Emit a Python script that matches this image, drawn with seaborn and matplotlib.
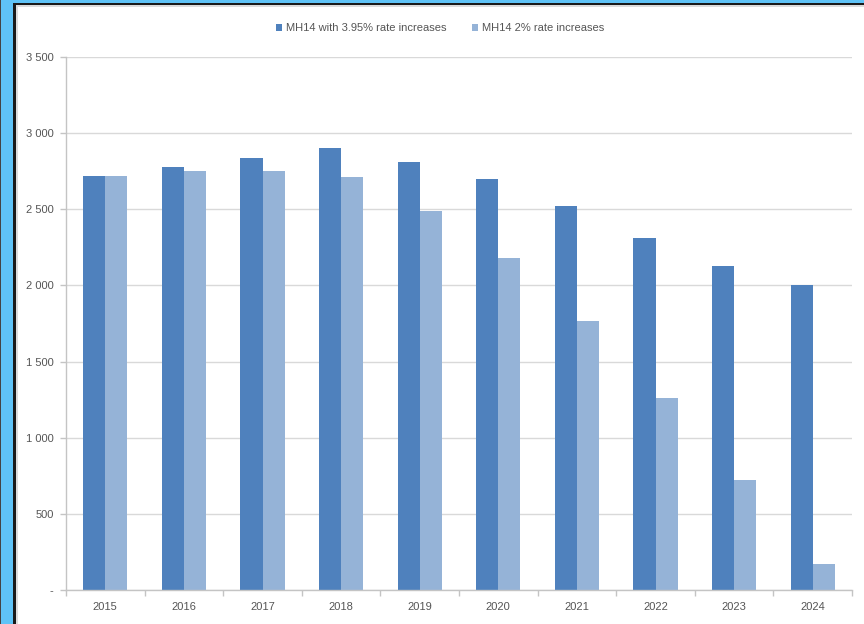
import matplotlib
matplotlib.use("Agg")
import matplotlib.pyplot as plt
from matplotlib.patches import Rectangle
from matplotlib.ticker import FixedLocator, FuncFormatter
import seaborn as sns
import pandas as pd

# Projected values per year
years = ["2015", "2016", "2017", "2018", "2019", "2020", "2021", "2022", "2023", "2024"]
rate_395 = [2719, 2778, 2837, 2905, 2813, 2697, 2522, 2314, 2128, 2001]
rate_2 = [2719, 2750, 2750, 2712, 2491, 2182, 1766, 1261, 722, 169]
series_names = ["MH14 with 3.95% rate increases", "MH14 2% rate increases"]
y_ticks = [0, 500, 1000, 1500, 2000, 2500, 3000, 3500]

df = pd.DataFrame({
    "year": years * 2,
    "value": rate_395 + rate_2,
    "series": [series_names[0]] * len(years) + [series_names[1]] * len(years),
})

sns.set_theme(style="white")
plt.rcParams["font.family"] = ["Liberation Sans Narrow", "Liberation Sans", "DejaVu Sans"]

W, H = 864, 624
fig = plt.figure(figsize=(W / 100, H / 100), dpi=100)
fig.patch.set_facecolor("white")


def px_rect(x0, y0, x1, y1, color):
    fig.patches.append(Rectangle((x0 / W, 1 - y1 / H), (x1 - x0) / W, (y1 - y0) / H,
                                 transform=fig.transFigure, facecolor=color,
                                 edgecolor="none", zorder=-10))


# Slide frame: light-blue band with dark edge lines on the left and top
frame_blue = "#5fc3f7"
px_rect(0, 0, W, 3, frame_blue)
px_rect(16, 3, W, 5, "#1a1a1a")
px_rect(16, 5, W, 7, "#dcdcdc")
px_rect(0, 0, 13, H, frame_blue)
px_rect(0, 0, 1, H, "#444444")
px_rect(13, 3, 16, H, "#1a1a1a")
px_rect(16, 5, 18, H, "#dcdcdc")

ax = fig.add_axes([66 / W, 1 - 590 / H, (852 - 66) / W, (590 - 57) / H])
palette = ["#4f81bd", "#95b3d7"]
sns.barplot(data=df, x="year", y="value", hue="series", palette=palette,
            width=0.56, saturation=1, ax=ax, legend=True, edgecolor="none")

ax.set_ylim(0, 3500)
ax.set_xlim(-0.5, len(years) - 0.5)
ax.set_xlabel("")
ax.set_ylabel("")

grid_c = "#d9d9d9"
axis_c = "#c4c4c4"
text_c = "#555555"
ax.yaxis.set_major_locator(FixedLocator(y_ticks))
ax.yaxis.set_major_formatter(FuncFormatter(
    lambda v, p: "-" if v == 0 else f"{int(v):,}".replace(",", " ")))
ax.grid(axis="y", color=grid_c, linewidth=1)
ax.set_axisbelow(True)
for side in ["top", "right"]:
    ax.spines[side].set_visible(False)
for side in ["left", "bottom"]:
    ax.spines[side].set_color(axis_c)
    ax.spines[side].set_linewidth(1)

ax.tick_params(axis="y", which="major", length=4, width=1, color=axis_c,
               labelsize=8, labelcolor=text_c, pad=5, left=True)
ax.set_xticks(range(len(years)))
ax.set_xticklabels(years)
ax.set_xticks([i - 0.5 for i in range(len(years) + 1)], minor=True)
ax.tick_params(axis="x", which="major", length=0, labelsize=8, labelcolor=text_c, pad=9)
ax.tick_params(axis="x", which="minor", length=4, width=1, color=axis_c, bottom=True)

handles, labels = ax.get_legend_handles_labels()
ax.legend(handles, labels, loc="center", bbox_to_anchor=(0.509, 1 - 28 / H),
          bbox_transform=fig.transFigure, ncol=2, frameon=False,
          fontsize=8, labelcolor=text_c, handlelength=0.6, handleheight=0.6,
          handletextpad=0.3, columnspacing=2.3)

fig.savefig("out.png", dpi=100)
